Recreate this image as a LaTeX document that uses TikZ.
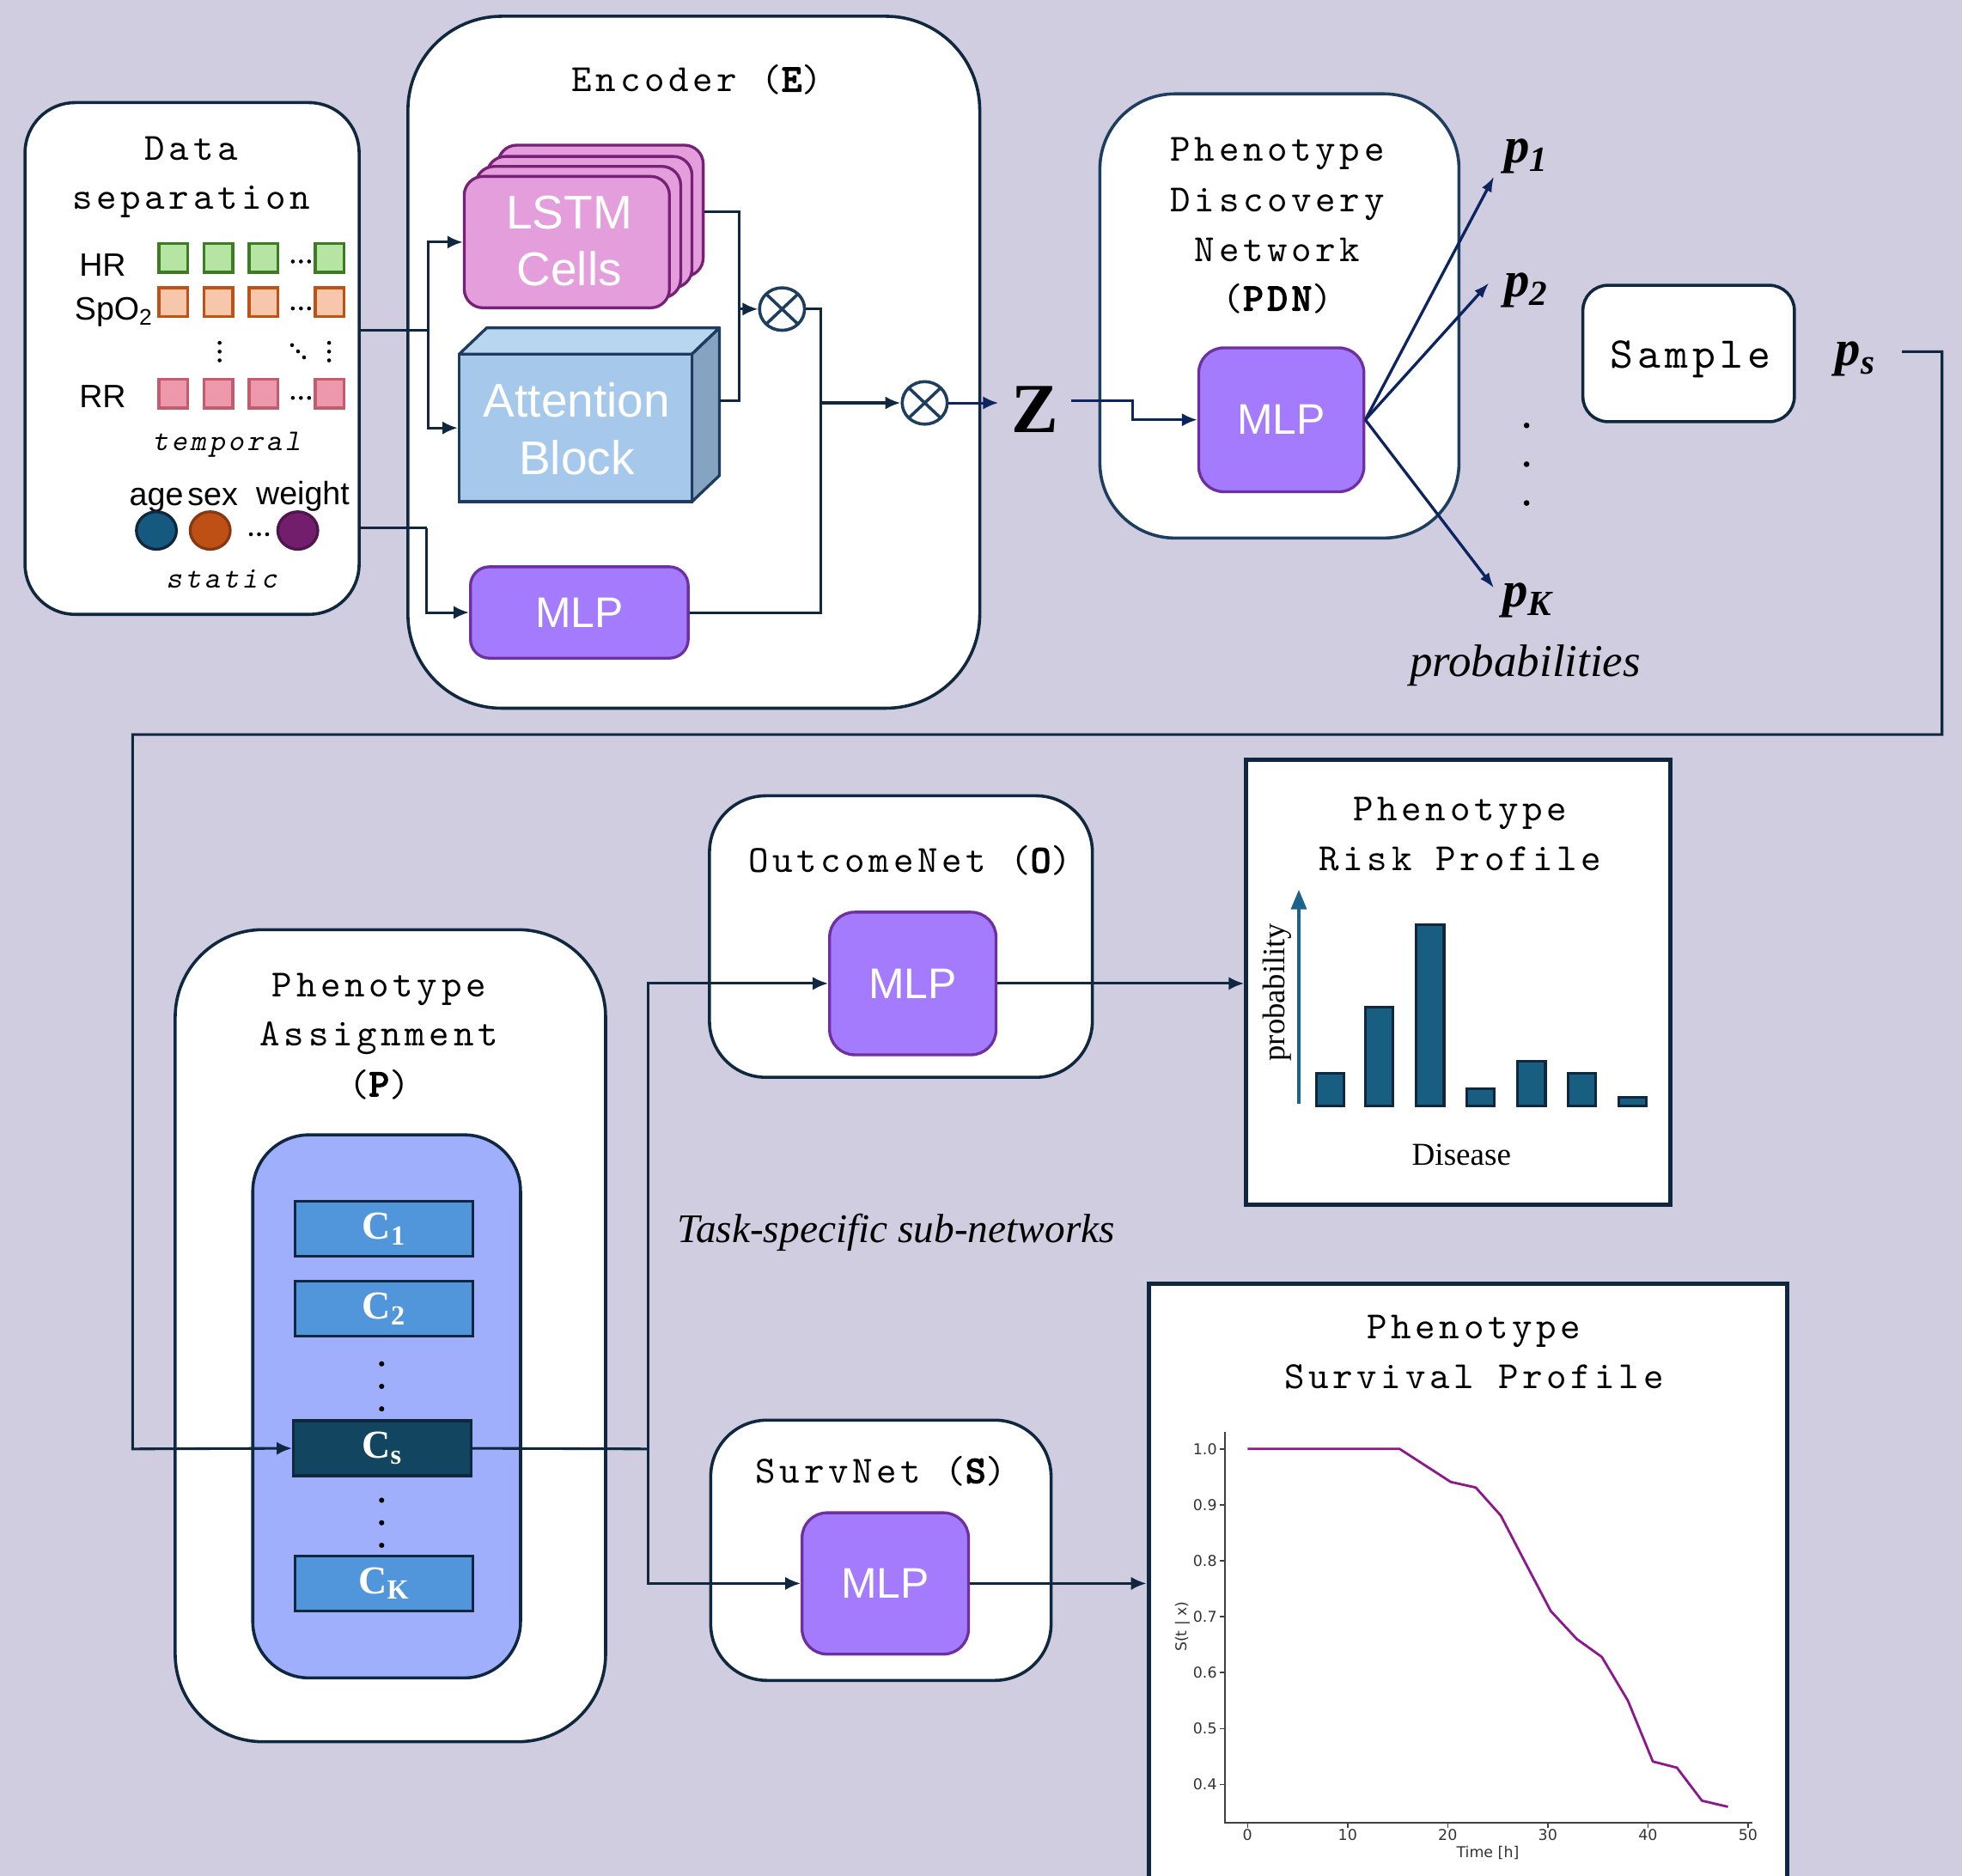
\documentclass[tikz,border=0pt]{standalone}
\usepackage{fontspec}
\setmainfont{Liberation Serif}
\newfontfamily\monof{lmmono10-regular.otf}[LetterSpace=10.4]
\newfontfamily\monob{lmmono10-regular.otf}[FakeBold=3.5, LetterSpace=10.4]
\newfontfamily\monoi{lmmono10-regular.otf}[FakeSlant=0.2, LetterSpace=10.4]
\newfontfamily\sansf{Liberation Sans}
\newfontfamily\plotf{DejaVu Sans}
\usetikzlibrary{arrows.meta,fit,calc,shapes.geometric}
\definecolor{bgc}{RGB}{207,205,223}
\definecolor{navy}{RGB}{15,40,64}
\definecolor{lblue}{RGB}{12,36,96}
\definecolor{lstmf}{RGB}{227,158,219}
\definecolor{lstmb}{RGB}{118,32,118}
\definecolor{attf}{RGB}{166,201,235}
\definecolor{attt}{RGB}{185,214,241}
\definecolor{atts}{RGB}{133,164,193}
\definecolor{attb}{RGB}{30,60,95}
\definecolor{mlpf}{RGB}{163,123,252}
\definecolor{mlpb}{RGB}{110,48,160}
\definecolor{grf}{RGB}{182,228,162}
\definecolor{grb}{RGB}{62,124,36}
\definecolor{orf}{RGB}{247,199,172}
\definecolor{orb}{RGB}{192,82,24}
\definecolor{pkf}{RGB}{238,152,172}
\definecolor{pkb}{RGB}{196,92,112}
\definecolor{cblue}{RGB}{21,90,126}
\definecolor{corange}{RGB}{190,80,22}
\definecolor{cpurple}{RGB}{114,30,108}
\definecolor{asgf}{RGB}{160,175,252}
\definecolor{cboxf}{RGB}{81,150,218}
\definecolor{csf}{RGB}{18,70,96}
\definecolor{barf}{RGB}{23,94,128}
\definecolor{axc}{RGB}{26,100,137}
\definecolor{curvec}{RGB}{140,24,140}
\definecolor{otb}{RGB}{30,62,95}
\tikzset{
  bigbox/.style={draw=navy, line width=1.4pt, fill=white, inner sep=0pt},
  conn/.style={draw=navy, line width=1.2pt},
  arr/.style={conn, -{Latex[length=7pt,width=6pt]}},
  parr/.style={draw=lblue, line width=1.3pt, -{Latex[length=7pt,width=5pt]}},
  title/.style={font=\monof\fontsize{17.5}{22.8}\selectfont, text=black, inner sep=0pt, anchor=base},
  mlp/.style={draw=mlpb, fill=mlpf, line width=1.3pt, rounded corners=0.3cm, inner sep=0pt, text=white, font=\sansf\fontsize{19.5}{24}\selectfont},
  sq/.style={draw, line width=1.4pt, minimum size=0.46cm, inner sep=0pt},
  lab/.style={font=\sansf\fontsize{14.7}{17}\selectfont, inner sep=0pt, anchor=base},
  wlab/.style={font=\sansf\fontsize{21.5}{24}\selectfont, text=white, inner sep=0pt, anchor=base},
  otim/.style={ellipse, draw=otb, line width=1.4pt, fill=white, minimum width=0.72cm, minimum height=0.68cm, inner sep=0pt,
    path picture={\draw[otb, line width=1.4pt] (path picture bounding box.north west) -- (path picture bounding box.south east) (path picture bounding box.north east) -- (path picture bounding box.south west);}},
  cbox/.style={draw=navy, line width=1.3pt, fill=cboxf, minimum width=2.84cm, minimum height=0.88cm, inner sep=0pt, text=white, font=\bfseries\fontsize{18}{20}\selectfont},
  pp/.style={font=\bfseries\itshape\fontsize{23}{26}\selectfont, inner sep=1pt},
  lstm/.style={draw=lstmb, fill=lstmf, line width=1.3pt, rounded corners=0.3cm},
  bar/.style={draw=navy, fill=barf, line width=1.2pt},
  plotlab/.style={font=\plotf\fontsize{6.8}{8}\selectfont, text=black!80, inner sep=1pt},
}
\begin{document}
\begin{tikzpicture}[x=0.02cm,y=-0.02cm]
\fill[bgc] (0,0) rectangle (1568,1499);
\useasboundingbox (0,0) rectangle (1568,1499);

% ---------------- Data separation ----------------
\node[bigbox, rounded corners=0.8cm, fit={(20,82) (287,491)}] (data) {};
\node[title] (dataT1) at (153,128) {Data};
\node[title] (dataT2) at (153,167) {separation};
\node[lab] (hr) at (82,221) {HR};
\node[lab] (spo) at (91,256) {SpO\textsubscript{2}};
\node[lab] (rr) at (82,326) {RR};
\foreach \x [count=\i] in {138.5,174.5,210.5,263.5} {
  \node[sq, fill=grf, draw=grb] (g\i) at (\x,206) {};
  \node[sq, fill=orf, draw=orb] (o\i) at (\x,241.5) {};
  \node[sq, fill=pkf, draw=pkb] (k\i) at (\x,314.5) {};
}
% ellipsis dots
\foreach \yy in {209,246.5,318} \foreach \xx in {234,240.5,247} \fill (\xx,\yy) circle[radius=0.9pt];
\foreach \xx in {175.5,263} \foreach \yy in {274,281,288} \fill (\xx,\yy) circle[radius=0.9pt];
\foreach \xx/\yy in {233.4/275.8,238.2/280.8,243/285.6} \fill (\xx,\yy) circle[radius=0.9pt];
\node[font=\monoi\fontsize{13.7}{17}\selectfont, inner sep=0pt, anchor=base] (tmp) at (181,360) {temporal};
\node[lab] (age) at (125,404) {age};
\node[lab] (sex) at (170,404) {sex};
\node[lab] (wgt) at (242,403) {weight};
\node[ellipse, fill=cblue, draw=navy, line width=1.3pt, minimum width=0.64cm, minimum height=0.6cm, inner sep=0pt] (cage) at (125,424) {};
\node[ellipse, fill=corange, draw=orb!70!black, line width=1.3pt, minimum width=0.64cm, minimum height=0.6cm, inner sep=0pt] (csex) at (168,424) {};
\node[ellipse, fill=cpurple, draw=cpurple!70!black, line width=1.3pt, minimum width=0.64cm, minimum height=0.6cm, inner sep=0pt] (cwgt) at (238,424) {};
\foreach \xx in {200.5,207,213.5} \fill (\xx,427) circle[radius=0.9pt];
\node[font=\monoi\fontsize{13.7}{17}\selectfont, inner sep=0pt, anchor=base] (stc) at (177,470) {static};

% ---------------- Encoder ----------------
\node[bigbox, rounded corners=1.5cm, fit={(326,13) (783,566)}] (enc) {};
\node[title] (encT) at (557,73) {Encoder ({\monob E})};
\node[lstm, inner sep=0pt, fit={(398,116) (562,221)}] (lstmD) {};
\node[lstm, inner sep=0pt, fit={(389,125) (553,230)}] (lstmC) {};
\node[lstm, inner sep=0pt, fit={(380,133) (544,238)}] (lstmB) {};
\node[lstm, inner sep=0pt, fit={(371,141) (535,246)}] (lstm) {};
\node[wlab] (lstmT1) at (455,183) {LSTM};
\node[wlab] (lstmT2) at (455,228) {Cells};
% attention cuboid
\draw[draw=attb, fill=attt, line width=1.3pt, line join=round] (367,283) -- (389,262) -- (575,262) -- (553,283) -- cycle;
\draw[draw=attb, fill=atts, line width=1.3pt, line join=round] (553,283) -- (575,262) -- (575,380) -- (553,401) -- cycle;
\node[draw=attb, fill=attf, line width=1.3pt, inner sep=0pt, fit={(367,283) (553,401)}] (att) {};
\node[wlab] (attT1) at (461,333) {Attention};
\node[wlab] (attT2) at (461,379) {Block};
\node[mlp, fit={(376,453) (550,526)}] (emlp) {};
\node[mlp, draw=none, fill=none] (emlpT) at (emlp.center) {MLP};
\node[otim] (m1) at (625,247) {};
\node[otim] (m2) at (739,322) {};

% encoder connectors
\coordinate (s1) at (342,264);
\coordinate (s2) at (341,422);
\draw[conn] (data.east |- s1) -- (s1);
\draw[arr] (s1) |- (lstm.west);
\draw[arr] (s1) |- (att.west);
\draw[conn] (data.east |- s2) -- (s2);
\draw[arr] (s2) |- (emlp.west);
\coordinate (jL) at (591,169);
\coordinate (jA) at (591,320);
\coordinate (jM) at (591,247);
\coordinate (attR) at (575,320);
\draw[conn] (lstmD.east |- jL) -- (jL) -- (jA) -- (attR);
\draw[arr] (jM) -- (m1.west);
\coordinate (jX) at (656,322);
\draw[conn] (m1.east) -| (jX) |- (emlp.east);
\draw[arr, line width=1.8pt] (jX) -- (m2.west);

% ---------------- Z and PDN ----------------
\node[font=\bfseries\fontsize{32}{34}\selectfont, inner sep=0.2cm] (Z) at (827,327) {Z};
\draw[arr, draw=lblue] (m2.east) -- (m2.east -| Z.west);
\node[bigbox, draw=otb, rounded corners=1.2cm, fit={(879,75) (1166,430)}] (pdn) {};
\node[title] (pdnT1) at (1021,129) {Phenotype};
\node[title] (pdnT2) at (1021,169) {Discovery};
\node[title] (pdnT3) at (1021,209) {Network};
\node[title] (pdnT4) at (1021,248) {({\monob PDN})};
\node[mlp, rounded corners=0.4cm, fit={(958,278) (1090,393)}] (pmlp) {};
\node[mlp, draw=none, fill=none] (pmlpT) at (pmlp.center) {MLP};
\coordinate (jZ) at (905,320);
\draw[arr, draw=lblue] (Z.east |- jZ) -- (jZ) |- (pmlp.west);

% probabilities
\node[pp] (p1) at (1220,125) {p\textsubscript{1}};
\node[pp] (p2) at (1220,232) {p\textsubscript{2}};
\node[pp] (pK) at (1221,480) {p\textsubscript{K}};
\coordinate (a1) at (1194,141);
\coordinate (a2) at (1190,226);
\coordinate (aK) at (1194,470);
\draw[parr] (pmlp.east) -- (a1);
\draw[parr] (pmlp.east) -- (a2);
\draw[parr] (pmlp.east) -- (aK);
\foreach \yy in {340,371,402} \fill (1220,\yy) circle[radius=1.3pt];
\node[font=\itshape\fontsize{20.7}{24}\selectfont, inner sep=0pt] (probs) at (1219,532) {probabilities};

% Sample
\node[bigbox, rounded corners=0.4cm, fit={(1265,228) (1434,337)}] (smp) {};
\node[font=\monof\fontsize{20}{24}\selectfont, inner sep=0pt, anchor=base] (smpT) at (1351,294) {Sample};
\node[pp] (ps) at (1483,287) {p\textsubscript{s}};
\coordinate (q1) at (1520,281);
\coordinate (q2) at (1552,587);
\coordinate (q3) at (106,1158);

% ---------------- Phenotype Assignment ----------------
\node[bigbox, rounded corners=1.4cm, fit={(140,743) (484,1392)}] (asg) {};
\node[title] (asgT1) at (303,797) {Phenotype};
\node[title] (asgT2) at (303,836) {Assignment};
\node[title] (asgT3) at (303,876) {({\monob P})};
\node[draw=navy, line width=1.4pt, fill=asgf, rounded corners=0.9cm, inner sep=0pt, fit={(202,907) (416,1341)}] (inner) {};
\node[cbox] (c1) at (307,982) {C\textsubscript{1}};
\node[cbox] (c2) at (307,1046) {C\textsubscript{2}};
\node[cbox, fill=csf] (cs) at (305.5,1157.5) {C\textsubscript{s}};
\node[cbox] (cK) at (307,1265.5) {C\textsubscript{K}};
\foreach \yy in {1090,1108,1126,1199,1217,1235} \fill (305,\yy) circle[radius=1.2pt];
\draw[arr] (q1) -| (q2) -| (q3) -- (cs.west);

% ---------------- OutcomeNet ----------------
\node[bigbox, rounded corners=0.9cm, fit={(567,636) (873,861)}] (out) {};
\node[title] (outT) at (727,697) {OutcomeNet ({\monob O})};
\node[mlp, rounded corners=0.4cm, fit={(663,729) (796,843)}] (omlp) {};
\node[mlp, draw=none, fill=none] (omlpT) at (omlp.center) {MLP};

% ---------------- SurvNet ----------------
\node[bigbox, rounded corners=0.9cm, fit={(568,1135) (840,1343)}] (srv) {};
\node[title] (srvT) at (704,1185) {SurvNet ({\monob S})};
\node[mlp, rounded corners=0.4cm, fit={(641,1209) (774,1322)}] (smlp) {};
\node[mlp, draw=none, fill=none] (smlpT) at (smlp.center) {MLP};

\coordinate (r1) at (518,1158);
\draw[conn] (cs.east) -- (r1);
\draw[arr] (r1) |- (omlp.west);
\draw[arr] (r1) |- (smlp.west);

\node[font=\itshape\fontsize{18.5}{22}\selectfont, inner sep=0pt] (task) at (716,985) {Task-specific sub-networks};

% ---------------- Risk profile ----------------
\node[bigbox, line width=2pt, fit={(996,607) (1335,963)}] (risk) {};
\node[title] (riskT1) at (1167,656) {Phenotype};
\node[title] (riskT2) at (1167,696) {Risk Profile};
\draw[axc, line width=1.6pt, -{Triangle[length=9pt,width=7pt]}] (1038,882) -- (1038,711);
\node[font=\fontsize{14.3}{16}\selectfont, rotate=90, inner sep=0pt] (prob) at (1021,793) {probability};
\foreach \a/\t in {1052/858, 1091/805, 1132/739, 1172/870, 1213/848, 1253/858, 1294/877}
  \draw[bar] (\a,884) rectangle (\a+22,\t);
\node[font=\fontsize{14.5}{16}\selectfont, inner sep=0pt] (dis) at (1168,923) {Disease};
\draw[arr] (omlp.east) -- (omlp.east -| risk.west);

% ---------------- Survival profile ----------------
\node[bigbox, line width=2pt, fit={(918,1026) (1428,1515)}] (surv) {};
\node[title] (survT1) at (1178,1070) {Phenotype};
\node[title] (survT2) at (1178,1110) {Survival Profile};
\draw[arr] (smlp.east) -- (smlp.east -| surv.west);
\begin{scope}[shift={(997,1158)}, x=0.16cm, y=8.94cm]
  \draw[black!75, line width=0.7pt] (-2.25,0.03) -- (-2.25,-0.669) -- (50.4,-0.669);
  \foreach \t in {0,10,20,30,40,50} {
    \draw[black!75, line width=0.6pt] (\t,-0.669) -- ++(0,-0.009);
    \node[plotlab, anchor=north] (xt\t) at (\t,-0.676) {\t};
  }
  \foreach \v [evaluate=\v as \yy using \v-1, count=\i] in {1.0,0.9,0.8,0.7,0.6,0.5,0.4} {
    \draw[black!75, line width=0.6pt] (-2.25,\yy) -- ++(-0.5,0);
    \node[plotlab, anchor=east] (yt\i) at (-2.8,\yy) {\v};
  }
  \draw[curvec, line width=1.1pt, line join=round] plot coordinates {
    (0,0) (15.2,0) (20.3,-0.059) (22.8,-0.069) (25.3,-0.119) (27.8,-0.205) (30.3,-0.29)
    (32.9,-0.34) (35.4,-0.372) (38,-0.45) (40.5,-0.559) (42.9,-0.57) (45.4,-0.629) (48,-0.64)};
\end{scope}
\node[plotlab, rotate=90] (ylab) at (945,1300) {S(t | x)};
\node[plotlab] (xlab) at (1189,1481) {Time [h]};
\end{tikzpicture}
\end{document}
